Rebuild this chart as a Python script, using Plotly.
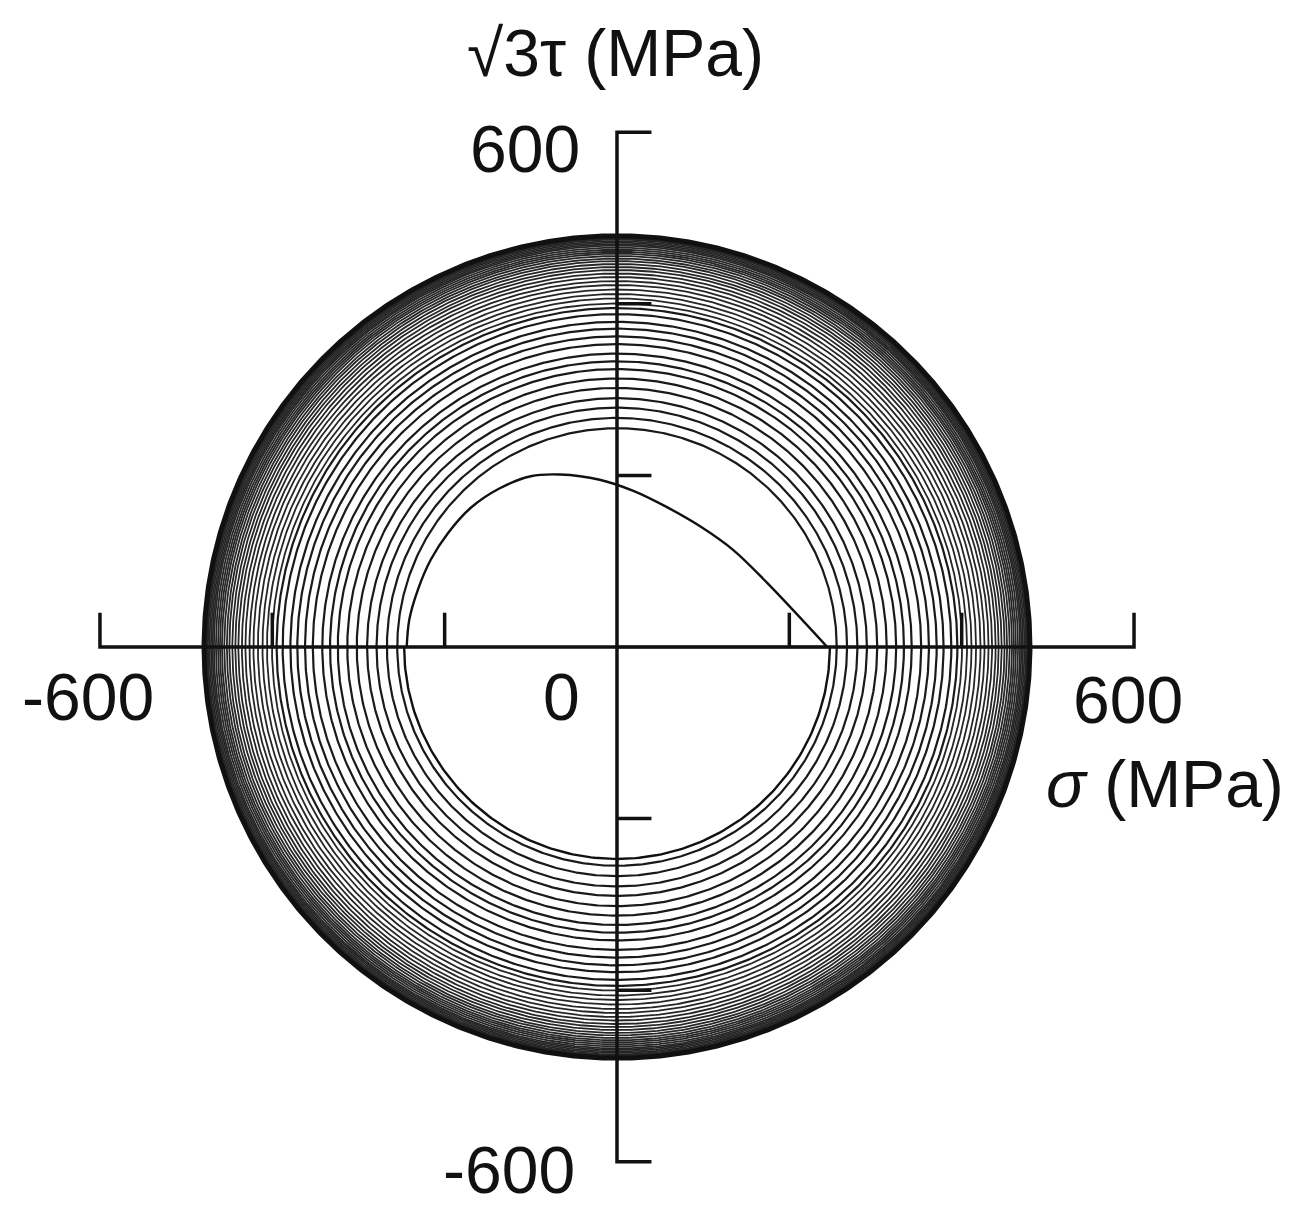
import numpy as np
import plotly.graph_objects as go

# ---- data (MPa) ----
# initial tensile loading along sigma axis
load_sigma = [0, 244]
load_tau = [0, 0]
# non-proportional path (sigma, sqrt3*tau)
path_sigma = [244, 174, 135, 96, 58, 19, -20, -66, -100, -136, -170, -196, -216, -231, -241, -244]
path_tau   = [0, 75, 113, 141, 163, 182, 195, 201, 199, 185, 162, 133, 102, 67, 32, 0]
first_half_loop_radius = 247
# radii of successive circular cycles (MPa)
cycle_radii = [255, 267, 279, 290, 302, 313, 324, 333, 342, 353, 362, 371, 379, 388, 395,
               400.4, 406.2, 411.4, 416.7, 421.9, 426.5, 431.2, 435.3, 439.4, 442.9, 446.4,
               449.8, 452.7, 455.7, 458.4, 460.7, 463.0, 465.4, 467.7, 469.4, 471.2, 473.0,
               474.7, 475.8, 477.0, 478.1, 479.3, 480.4]
# axes
axis_min, axis_max = -600, 600
axis_ticks = [-400, -200, 200, 400]
tick_labels_x = ["-600", "0", "600"]
tick_labels_y = ["600", "-600"]

fig = go.Figure()

fig.add_trace(go.Scatter(x=load_sigma, y=load_tau, mode="lines",
                         line=dict(color="#111", width=2.4), hoverinfo="skip"))
fig.add_trace(go.Scatter(x=path_sigma, y=path_tau, mode="lines",
                         line=dict(color="#111", width=2.4, shape="spline", smoothing=1.0),
                         hoverinfo="skip"))
th = np.linspace(np.pi, 2 * np.pi, 181)
fig.add_trace(go.Scatter(x=first_half_loop_radius * np.cos(th), y=first_half_loop_radius * np.sin(th),
                         mode="lines", line=dict(color="#111", width=2.4), hoverinfo="skip"))

t = np.linspace(0, 2 * np.pi, 721)


def rings(radii):
    xs, ys = [], []
    for r in radii:
        xs += list(r * np.cos(t)) + [None]
        ys += list(r * np.sin(t)) + [None]
    return xs, ys


xa, ya = rings(cycle_radii[:15])
fig.add_trace(go.Scatter(x=xa, y=ya, mode="lines", line=dict(color="#1a1a1a", width=2.2),
                         hoverinfo="skip"))
xb, yb = rings(cycle_radii[15:-3])
fig.add_trace(go.Scatter(x=xb, y=yb, mode="lines", line=dict(color="#262626", width=1.8),
                         hoverinfo="skip"))
xc, yc = rings(cycle_radii[-3:])
fig.add_trace(go.Scatter(x=xc, y=yc, mode="lines", line=dict(color="#111", width=3.0),
                         hoverinfo="skip"))

# hand-drawn style axes
ax_col = "#111"
tick_h = 40   # tick length in MPa
fig.add_trace(go.Scatter(x=[axis_min, axis_min, axis_max, axis_max], y=[tick_h, 0, 0, tick_h],
                         mode="lines", line=dict(color=ax_col, width=3.5), hoverinfo="skip"))
fig.add_trace(go.Scatter(x=[tick_h, 0, 0, tick_h], y=[axis_max, axis_max, axis_min, axis_min],
                         mode="lines", line=dict(color=ax_col, width=3.5), hoverinfo="skip"))
tx, ty = [], []
for v in axis_ticks:
    tx += [v, v, None]; ty += [0, tick_h, None]
for v in axis_ticks:
    tx += [0, tick_h, None]; ty += [v, v, None]
fig.add_trace(go.Scatter(x=tx, y=ty, mode="lines", line=dict(color=ax_col, width=3.5),
                         hoverinfo="skip"))

font = dict(family="Liberation Sans, Arial, sans-serif", size=66, color="#111")
ann = [
    dict(x=-614, y=-58, text=tick_labels_x[0]),
    dict(x=-64, y=-58, text=tick_labels_x[1]),
    dict(x=593, y=-62, text=tick_labels_x[2]),
    dict(x=636, y=-160, text="<i>σ</i> (MPa)"),
    dict(x=-107, y=580, text=tick_labels_y[0]),
    dict(x=-125, y=-610, text=tick_labels_y[1]),
    dict(x=-2, y=692, text="√3τ (MPa)"),
]
for a in ann:
    fig.add_annotation(x=a["x"], y=a["y"], text=a["text"], showarrow=False,
                       font=font, xanchor="center", yanchor="middle")

fig.update_layout(
    width=1308, height=1206, autosize=False,
    margin=dict(l=0, r=0, t=0, b=0),
    paper_bgcolor="white", plot_bgcolor="white",
    showlegend=False,
    xaxis=dict(range=[-716.0, 801.9], visible=False, fixedrange=True),
    yaxis=dict(range=[-651.5, 754.1], visible=False, fixedrange=True),
)

fig.write_html("out.html", config={"displayModeBar": False},
               post_script="document.body.style.margin='0';")
